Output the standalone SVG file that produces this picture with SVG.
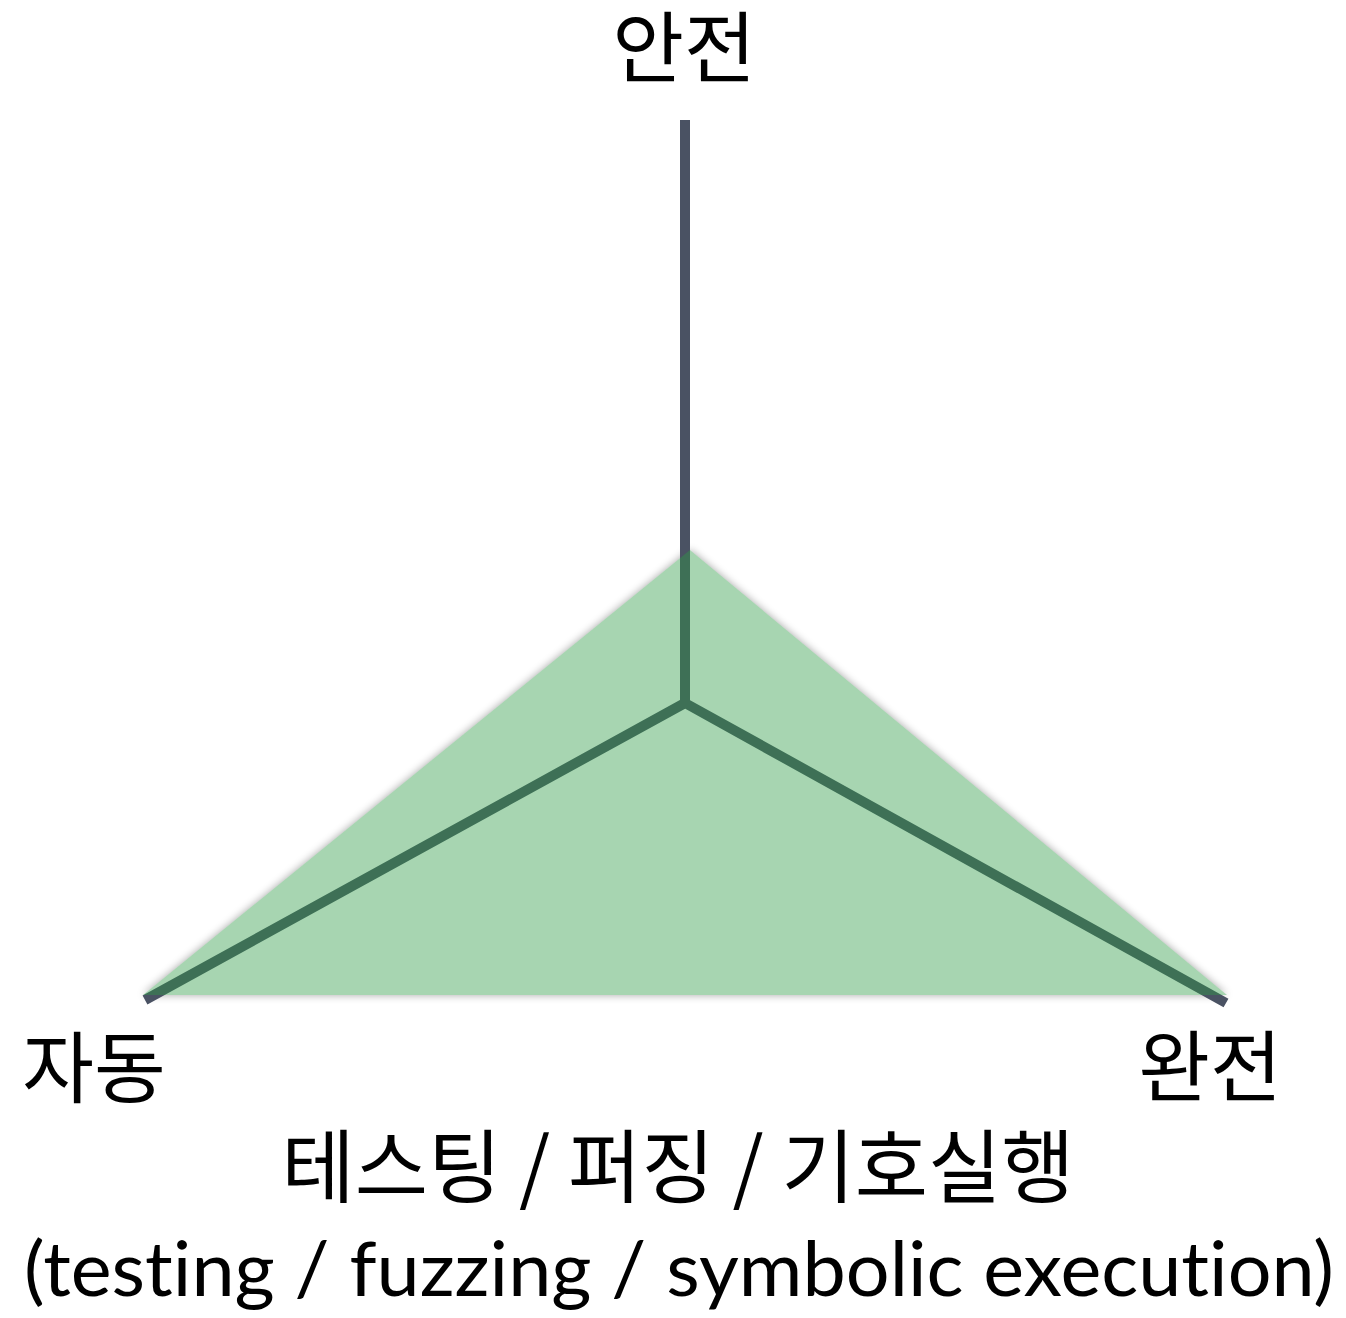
<svg xmlns="http://www.w3.org/2000/svg" width="1346" height="1318" viewBox="0 0 1346 1318">
  <defs>
    <style>
      .axis { stroke: #4a5263; stroke-width: 10; fill: none; stroke-linecap: butt; stroke-linejoin: round; }
      .ko { font-family: "Noto Sans CJK KR", "Noto Sans", sans-serif; fill: #000; text-anchor: middle; }
      .en { font-family: "Lato", "Open Sans", sans-serif; fill: #000; text-anchor: middle; font-variant-ligatures: none; }
    </style>
    <filter id="shadow" x="-10%" y="-10%" width="120%" height="120%">
      <feGaussianBlur stdDeviation="4"/>
    </filter>
  </defs>
  <rect width="1346" height="1318" fill="#ffffff"/>
  <g id="area">
    <polygon points="690,550 143,995 1227,995" fill="#000" opacity="0.35" filter="url(#shadow)"/>
    <polygon points="690,550 143,995 1227,995" fill="#ffffff"/>
  </g>
  <g id="connectors">
    <path class="axis" d="M685,120 V703 L145,1000 M685,703 L1226,1003"/>
  </g>
  <g id="coverage">
    <polygon points="690,550 143,995 1227,995" fill="rgb(46,154,69)" fill-opacity="0.42"/>
  </g>
  <g id="label-safe">
    <text class="ko" x="684" y="77" font-size="78">안전</text>
  </g>
  <g id="label-auto">
    <text class="ko" x="94" y="1097" font-size="78">자동</text>
  </g>
  <g id="label-complete">
    <text class="ko" x="1210" y="1096" font-size="78">완전</text>
  </g>
  <g id="caption">
    <text class="ko" x="678" y="1196" font-size="80" textLength="793" lengthAdjust="spacingAndGlyphs">테스팅 / 퍼징 / 기호실행</text>
    <text class="en" x="679" y="1296" font-size="76" textLength="1310" lengthAdjust="spacingAndGlyphs">(testing / fuzzing / symbolic execution)</text>
  </g>
</svg>
